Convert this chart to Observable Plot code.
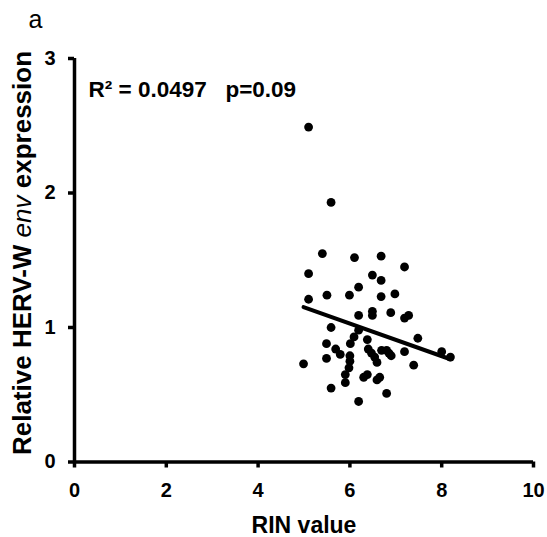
<!DOCTYPE html>
<html>
<head>
<meta charset="utf-8">
<script src="https://cdn.jsdelivr.net/npm/d3@7"></script>
<script src="https://cdn.jsdelivr.net/npm/@observablehq/plot@0.6"></script>
<style>
  html, body { margin: 0; padding: 0; background: #fff; }
</style>
</head>
<body>
<div id="chart"></div>
<script>
// RIN value of each sample
const rinValues = [
  5.10, 5.59, 5.40, 6.10, 6.68, 5.10, 7.19, 6.49, 6.68, 6.19,
  5.10, 5.50, 5.99, 6.68, 6.98, 6.19, 6.49, 6.49, 6.89, 7.19,
  7.28, 5.59, 6.19, 6.09, 6.01, 6.38, 7.48, 5.49, 5.69, 5.79,
  6.40, 6.47, 6.54, 6.59, 6.69, 6.80, 6.85, 6.90, 6.00, 6.00,
  5.98, 5.90, 5.90, 7.19, 8.00, 8.19, 5.49, 4.99, 7.39, 6.30,
  6.38, 6.65, 6.59, 5.59, 6.80, 6.19
];
// Relative HERV-W env expression of each sample
const hervExpression = [
  2.49, 1.93, 1.55, 1.52, 1.53, 1.40, 1.45, 1.39, 1.35, 1.30,
  1.21, 1.24, 1.24, 1.23, 1.25, 1.09, 1.12, 1.09, 1.11, 1.07,
  1.09, 1.00, 0.98, 0.93, 0.88, 0.91, 0.92, 0.88, 0.84, 0.80,
  0.84, 0.81, 0.78, 0.74, 0.83, 0.83, 0.81, 0.79, 0.79, 0.75,
  0.70, 0.65, 0.59, 0.82, 0.82, 0.78, 0.77, 0.73, 0.72, 0.63,
  0.65, 0.63, 0.61, 0.55, 0.51, 0.45
];
const xTicks = [0, 2, 4, 6, 8, 10];
const yTicks = [0, 1, 2, 3];
const panelLabel = "a";
const statsLabel = "R\u00b2 = 0.0497\u00a0\u00a0\u00a0p=0.09";
const xLabel = "RIN value";
const yLabelParts = [
  {text: "Relative HERV-W ", italic: false},
  {text: "env", italic: true},
  {text: " expression", italic: false}
];

const data = rinValues.map((x, i) => ({x, y: hervExpression[i]}));

const font = "'Liberation Sans', Arial, Helvetica, sans-serif";

const chart = Plot.plot({
  width: 547,
  height: 537,
  marginLeft: 74,
  marginRight: 14,
  marginTop: 58,
  marginBottom: 75.5,
  style: {fontFamily: font, fontSize: "20px", fontWeight: "bold", color: "black", background: "white"},
  x: {domain: [0, 10], ticks: xTicks},
  y: {domain: [0, 3], ticks: yTicks},
  marks: [
    Plot.ruleY([0], {stroke: "black", strokeWidth: 3.5}),
    Plot.ruleX([0], {stroke: "black", strokeWidth: 3.5}),
    Plot.axisX({ticks: xTicks, tickFormat: d => String(d), tickSize: 6, tickPadding: 15, strokeWidth: 3.5, label: null, fontSize: 20, fontWeight: "bold"}),
    Plot.axisY({ticks: yTicks, tickFormat: d => String(d), tickSize: 6, tickPadding: 13, strokeWidth: 3.5, label: null, fontSize: 20, fontWeight: "bold"}),
    Plot.dot(data, {x: "x", y: "y", r: 4.4, fill: "black", stroke: null}),
    Plot.linearRegressionY(data, {x: "x", y: "y", ci: 0, stroke: "black", strokeWidth: 4}),
    Plot.text([panelLabel], {text: d => d, frameAnchor: "top-left", textAnchor: "start", lineAnchor: "bottom", dx: -46, dy: -31, fontSize: 25, fontWeight: "normal"}),
    Plot.text([statsLabel], {text: d => d, frameAnchor: "top-left", textAnchor: "start", lineAnchor: "bottom", dx: 14, dy: 38, fontSize: 22.5, fontWeight: "bold"}),
    Plot.text([xLabel], {text: d => d, frameAnchor: "bottom", textAnchor: "middle", lineAnchor: "bottom", dy: 70.5, fontSize: 23, fontWeight: "bold"})
  ]
});

document.getElementById("chart").appendChild(chart);

// y-axis label with an italic "env"
const svg = d3.select(chart);
const yl = svg.append("text")
  .attr("transform", "translate(31,253) rotate(-90)")
  .attr("text-anchor", "middle")
  .attr("fill", "black")
  .style("font-family", font)
  .style("font-size", "26px")
  .style("font-weight", "bold");
yLabelParts.forEach(p => {
  const ts = yl.append("tspan").text(p.text);
  if (p.italic) ts.style("font-style", "italic").style("font-weight", "normal");
});
</script>
</body>
</html>
